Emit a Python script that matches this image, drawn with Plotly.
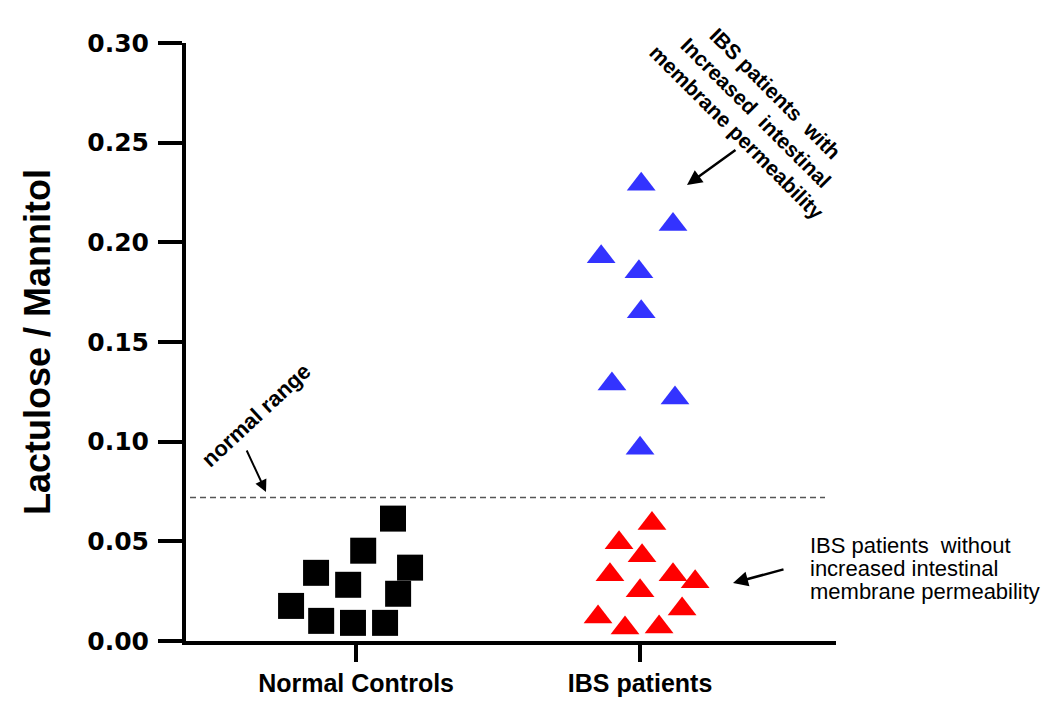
import plotly.graph_objects as go

# ---------------- data ----------------
categories = ["Normal Controls", "IBS patients"]
cat_pos = [1, 2]

# Normal controls (squares): jitter offset from category centre, L/M value
nc_offset = [0.130, 0.025, 0.190, -0.141, -0.028, 0.148, -0.229, -0.123, -0.011, 0.102]
nc_value = [0.0614, 0.0453, 0.0368, 0.0342, 0.0282, 0.0237, 0.0176, 0.0101, 0.0091, 0.0091]

# IBS patients with increased permeability (blue triangles)
ibs_hi_offset = [0.004, 0.116, -0.137, -0.004, 0.004, -0.099, 0.123, 0.0]
ibs_hi_value = [0.2291, 0.2090, 0.1928, 0.1853, 0.1652, 0.1289, 0.1219, 0.0967]

# IBS patients without increased permeability (red triangles)
ibs_lo_offset = [0.042, -0.074, 0.007, -0.106, 0.116, 0.194, 0.0, 0.148, -0.148, -0.053, 0.067]
ibs_lo_value = [0.0589, 0.0493, 0.0428, 0.0332, 0.0332, 0.0297, 0.0252, 0.0161, 0.0121, 0.0065, 0.0070]

normal_range_limit = 0.072

y_ticks = [0.00, 0.05, 0.10, 0.15, 0.20, 0.25, 0.30]
y_ticktext = ["0.00", "0.05", "0.10", "0.15", "0.20", "0.25", "0.30"]

# ---------------- figure ----------------
W, H = 1050, 708
ML, MR, MT, MB = 186, 214, 43, 67
PW, PH = W - ML - MR, H - MT - MB


def px(xp):
    return (xp - ML) / PW


def py(yp):
    return (H - MB - yp) / PH


fig = go.Figure()

fig.add_trace(go.Scatter(
    x=[cat_pos[0] + o for o in nc_offset], y=nc_value, mode="markers",
    marker=dict(symbol="square", size=26, color="black", line=dict(width=0)),
    name="Normal Controls", showlegend=False))

fig.add_trace(go.Scatter(
    x=[cat_pos[1] + o for o in ibs_hi_offset], y=ibs_hi_value, mode="markers",
    marker=dict(symbol="triangle-up", size=25, color="#3333FF", line=dict(width=0)),
    name="IBS increased permeability", showlegend=False))

fig.add_trace(go.Scatter(
    x=[cat_pos[1] + o for o in ibs_lo_offset], y=ibs_lo_value, mode="markers",
    marker=dict(symbol="triangle-up", size=25, color="#FF0000", line=dict(width=0)),
    name="IBS normal permeability", showlegend=False))

# normal range dashed line
fig.add_shape(type="line", xref="paper", yref="y",
              x0=px(190), x1=px(825), y0=normal_range_limit, y1=normal_range_limit,
              line=dict(color="#555555", width=1.5, dash="6px,4px"), layer="below")

ann_font = "Liberation Sans, Arial, sans-serif"
C = dict(xanchor="center", yanchor="middle")
annotations = [
    dict(text="normal range", xref="paper", yref="paper", x=px(256), y=py(416),
         textangle=-43, showarrow=False, **C,
         font=dict(family=ann_font, size=22, color="black", weight="bold")),
    dict(text="", xref="paper", yref="paper", x=px(266), y=py(492),
         ax=-20, ay=-43, showarrow=True, arrowhead=2, arrowsize=1.2,
         arrowwidth=2, arrowcolor="black", standoff=0),
    dict(text="IBS patients  with<br>Increased  intestinal<br>membrane permeability",
         xref="paper", yref="paper", x=px(756), y=py(113), textangle=45,
         showarrow=False, align="center", **C,
         font=dict(family=ann_font, size=21, color="black", weight="bold")),
    dict(text="", xref="paper", yref="paper", x=px(687), y=py(185),
         ax=50, ay=-36, showarrow=True, arrowhead=2, arrowsize=1.2,
         arrowwidth=2.5, arrowcolor="black", standoff=0),
    dict(text="IBS patients  without", xref="paper", yref="paper",
         x=px(808), y=py(545), xanchor="left", yanchor="middle", showarrow=False,
         font=dict(family=ann_font, size=22, color="black")),
    dict(text="increased intestinal", xref="paper", yref="paper",
         x=px(808), y=py(568), xanchor="left", yanchor="middle", showarrow=False,
         font=dict(family=ann_font, size=22, color="black")),
    dict(text="membrane permeability", xref="paper", yref="paper",
         x=px(808), y=py(591), xanchor="left", yanchor="middle", showarrow=False,
         font=dict(family=ann_font, size=22, color="black")),
    dict(text="", xref="paper", yref="paper", x=px(733), y=py(583),
         ax=52, ay=-14, showarrow=True, arrowhead=2, arrowsize=1.2,
         arrowwidth=2.5, arrowcolor="black", standoff=0),
]

fig.update_layout(
    width=W, height=H,
    margin=dict(l=ML, r=MR, t=MT, b=MB, autoexpand=False),
    paper_bgcolor="white", plot_bgcolor="white",
    annotations=annotations,
    xaxis=dict(
        range=[0.401, 2.690], tickvals=cat_pos, ticktext=categories,
        showline=True, linecolor="black", linewidth=4,
        ticks="outside", ticklen=17, tickwidth=4, tickcolor="black",
        showgrid=False, zeroline=False,
        tickfont=dict(family=ann_font, size=25, color="black", weight="bold"),
    ),
    yaxis=dict(
        range=[0, 0.30], tickvals=y_ticks, ticktext=y_ticktext,
        showline=True, linecolor="black", linewidth=4,
        ticks="outside", ticklen=24, tickwidth=4, tickcolor="black",
        showgrid=False, zeroline=False, ticklabelstandoff=4,
        tickfont=dict(family="DejaVu Sans", size=25, color="black", weight="bold"),
        title=dict(text="Lactulose / Mannitol", standoff=27,
                   font=dict(family=ann_font, size=36, color="black", weight="bold")),
    ),
)

fig.write_html("out.html", config={"displayModeBar": False},
               post_script="document.body.style.margin='0px';")
